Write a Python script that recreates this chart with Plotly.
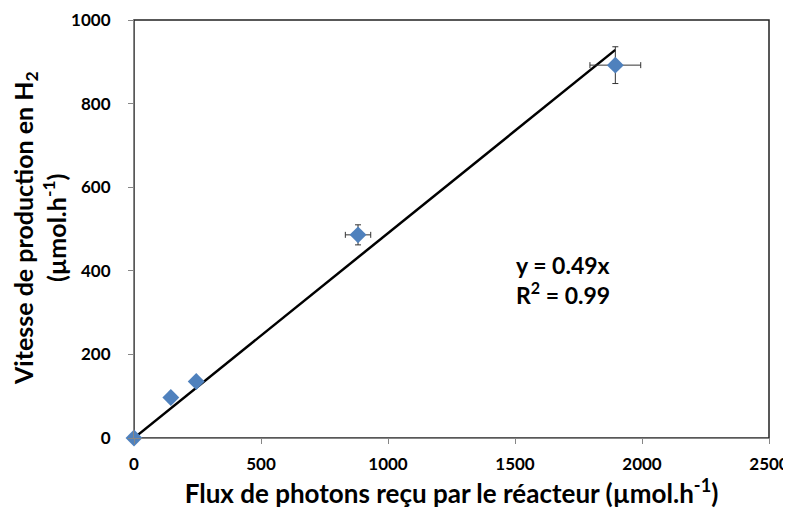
import plotly.graph_objects as go

flux = [0, 145, 245, 882, 1895]
vitesse = [0, 97, 135, 486, 892]
flux_err = [0, 0, 0, 50, 100]
vitesse_err = [0, 0, 0, 24, 44]
fit_x = [0, 1895]
slope = 0.49
fit_y = [slope * v for v in fit_x]

y_title_1 = "<b>Vitesse de production en H<sub>2</sub></b>"
y_title_2 = "<b>(µmol.h<sup>-1</sup>)</b>"
x_title = "<b>Flux de photons reçu par le réacteur (µmol.h<sup>-1</sup>)</b>"

font_family = "Lato, 'Open Sans', sans-serif"

fig = go.Figure()
fig.add_trace(go.Scatter(
    x=fit_x, y=fit_y, mode="lines",
    line=dict(color="black", width=2.5), showlegend=False, hoverinfo="skip"))
fig.add_trace(go.Scatter(
    x=flux, y=vitesse, mode="markers",
    marker=dict(symbol="diamond", size=13, color="#4F81BD"),
    error_x=dict(type="data", array=flux_err, color="#333333", thickness=1, width=3),
    error_y=dict(type="data", array=vitesse_err, color="#333333", thickness=1, width=3),
    showlegend=False, cliponaxis=False))

fig.add_annotation(
    x=0.598, y=0.303, xref="paper", yref="paper", xanchor="left", yanchor="bottom",
    text="<b>y = 0.49x<br>R<sup>2</sup> = 0.99</b>", showarrow=False, align="left",
    font=dict(family=font_family, size=23, color="black"))

# y-axis title as two rotated lines
fig.add_annotation(
    x=-0.1716, y=0.5024, xref="paper", yref="paper", xanchor="center", yanchor="middle",
    text=y_title_1, textangle=-90, showarrow=False,
    font=dict(family=font_family, size=25, color="black"))
fig.add_annotation(
    x=-0.1244, y=0.5024, xref="paper", yref="paper", xanchor="center", yanchor="middle",
    text=y_title_2, textangle=-90, showarrow=False,
    font=dict(family=font_family, size=25, color="black"))

fig.add_shape(type="rect", xref="paper", yref="paper", x0=0, y0=0, x1=1, y1=1,
              line=dict(color="#222222", width=1.5), layer="below")

axis_common = dict(showgrid=False, zeroline=False, showline=True, linecolor="#868686",
                   linewidth=1.2, ticks="outside", ticklen=5, tickcolor="#868686",
                   automargin=False,
                   tickfont=dict(family=font_family, size=17, color="black", weight="bold"))

fig.update_xaxes(range=[0, 2500], dtick=500, ticklabelstandoff=5, **axis_common,
                 title=dict(text=x_title,
                            font=dict(family=font_family, size=26, color="black"), standoff=17))
fig.update_yaxes(range=[0, 1000], dtick=200, ticklabelstandoff=14, **axis_common)

fig.update_layout(
    width=783, height=501,
    margin=dict(l=126, r=22, t=12, b=71),
    plot_bgcolor="white", paper_bgcolor="white",
    font=dict(family=font_family))

fig.write_html("out.html")
